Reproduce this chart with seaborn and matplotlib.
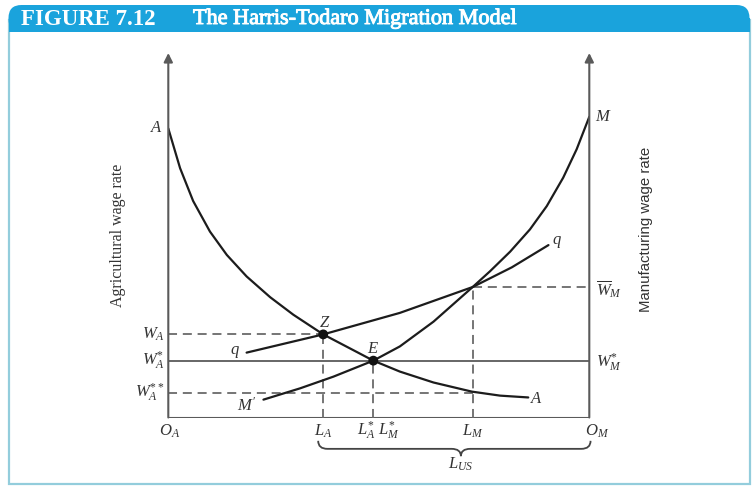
import matplotlib
matplotlib.use("Agg")
import matplotlib.pyplot as plt
import matplotlib.patheffects as pe
import seaborn as sns
from matplotlib.patches import FancyBboxPatch, Rectangle, PathPatch
from matplotlib.path import Path

# labour axis: O_A = 0 ... O_M = 100, wage axis: 0 ... 100 (arrow tips)
# agricultural marginal product curve AA
a_x = [0, 2.8, 5.9, 9.9, 13.9, 18.6, 24.2, 29.7, 36.8, 48.7, 55.0, 63.0, 72.1, 78.8, 85.5]
a_y = [79.3, 68.4, 59.4, 51.0, 44.6, 38.7, 33.0, 28.2, 22.8, 15.6, 12.6, 9.6, 7.1, 6.0, 5.5]
# manufacturing marginal product curve M'M
m_x = [22.6, 31.3, 39.2, 48.7, 55.0, 63.0, 72.3, 76.4, 81.2, 85.9, 89.9, 93.8, 97.0, 100]
m_y = [4.9, 8.0, 11.2, 15.6, 19.5, 26.3, 35.8, 40.1, 45.5, 51.6, 58.0, 65.8, 73.6, 82.5]
# Harris-Todaro iso-expected wage curve qq
q_x = [18.6, 36.8, 55.0, 72.3, 81.6, 90.3]
q_y = [17.8, 22.8, 28.7, 35.8, 41.2, 47.3]

# wage levels and labour allocations
w_a, w_a_star, w_a_2star, w_m_bar = 22.8, 15.6, 6.7, 35.8
l_a, l_a_star, l_m = 36.8, 48.7, 72.3

sns.set_style("white")
plt.rcParams["font.family"] = ["Liberation Serif", "DejaVu Serif"]
plt.rcParams["mathtext.fontset"] = "custom"
plt.rcParams["mathtext.rm"] = "Liberation Serif"
plt.rcParams["mathtext.it"] = "Liberation Serif:italic"
plt.rcParams["mathtext.bf"] = "Liberation Serif:bold"

fig = plt.figure(figsize=(7.54, 4.91), dpi=100)

# frame and title bar (pixel coordinates)
bg = fig.add_axes([0, 0, 1, 1])
bg.set_xlim(0, 754)
bg.set_ylim(491, 0)
bg.axis("off")
bg.add_patch(Rectangle((8.5, 20), 741, 464, fill=False, ec="#93cddc", lw=1.6))
bg.add_patch(FancyBboxPatch((8.5, 5), 741, 27, boxstyle="round,pad=0,rounding_size=13",
                            fc="#1aa3dc", ec="none"))
bg.add_patch(Rectangle((8.5, 18), 741, 14, fc="#1aa3dc", ec="none"))
bg.text(21, 19.5, "FIGURE 7.12", color="white", fontsize=16.5, fontweight="bold", va="center")
bg.text(193, 19.5, "The Harris-Todaro Migration Model", color="white", fontsize=16, va="center",
        path_effects=[pe.Stroke(linewidth=0.7, foreground="white"), pe.Normal()])

ax = fig.add_axes([168.3 / 754, 73.5 / 491, 421 / 754, 364.5 / 491])
ax.set_xlim(0, 100)
ax.set_ylim(0, 100)
ax.axis("off")

axis_col = "#5a5a5a"
dash_col = "#6a6a6a"
dash = (0, (5, 3.2))

# axes with arrows
for xv in (0, 100):
    ax.annotate("", xy=(xv, 100), xytext=(xv, 0),
                arrowprops=dict(arrowstyle="-|>", color=axis_col, lw=1.5, mutation_scale=13,
                                shrinkA=0, shrinkB=0))
ax.plot([0, 100], [0, 0], color=axis_col, lw=1.5, solid_capstyle="butt")

# reference lines
ax.plot([0, 100], [w_a_star, w_a_star], color=axis_col, lw=1.3)
ax.plot([0, l_a], [w_a, w_a], color=dash_col, lw=1.3, ls=dash)
ax.plot([0, l_m], [w_a_2star, w_a_2star], color=dash_col, lw=1.3, ls=dash)
ax.plot([l_m, 100], [w_m_bar, w_m_bar], color=dash_col, lw=1.3, ls=dash)
ax.plot([l_a, l_a], [0, w_a], color=dash_col, lw=1.3, ls=dash)
ax.plot([l_a_star, l_a_star], [0, w_a_star], color=dash_col, lw=1.3, ls=dash)
ax.plot([l_m, l_m], [0, w_m_bar], color=dash_col, lw=1.3, ls=dash)

# curves
for xs, ys in ((a_x, a_y), (m_x, m_y), (q_x, q_y)):
    sns.lineplot(x=xs, y=ys, ax=ax, sort=False, estimator=None, color="#1c1c1c", lw=1.6,
                 solid_joinstyle="round")

sns.scatterplot(x=[l_a, l_a_star], y=[w_a, w_a_star], ax=ax, color="#111111", s=50,
                edgecolor="none", zorder=5)

lab = dict(fontsize=12, color="#333333", va="center")
ax.text(-2.8, a_y[0], "$A$", ha="center", **lab)
ax.text(a_x[-1] + 2.0, a_y[-1] - 0.3, "$A$", ha="center", **lab)
ax.text(103.3, m_y[-1], "$M$", ha="center", **lab)
ax.text(m_x[0] - 3.9, m_y[0] - 1.6, "$M'$", ha="center", **lab)
ax.text(q_x[-1] + 2.0, q_y[-1] + 0.8, "$q$", ha="center", **lab)
ax.text(q_x[0] - 2.8, q_y[0] + 0.3, "$q$", ha="center", **lab)
ax.text(l_a + 0.4, w_a + 3.1, "$Z$", ha="center", **lab)
ax.text(l_a_star, w_a_star + 3.1, "$E$", ha="center", **lab)

ax.text(-0.9, w_a, "$W_A$", ha="right", **lab)
ax.text(-0.9, w_a_star, "$W_A^{*}$", ha="right", **lab)
ax.text(-0.9, w_a_2star, "$W_A^{**}$", ha="right", **lab)
ax.text(101.6, w_m_bar - 0.6, r"$\overline{W}_M$", ha="left", **lab)
ax.text(101.6, w_a_star - 0.6, "$W_M^{*}$", ha="left", **lab)

yb = -3.7
ax.text(0.4, yb, "$O_A$", ha="center", **lab)
ax.text(l_a, yb, "$L_A$", ha="center", **lab)
ax.text(l_a_star - 1.7, yb, "$L_A^{*}$", ha="center", **lab)
ax.text(l_a_star + 3.7, yb, "$L_M^{*}$", ha="center", **lab)
ax.text(l_m, yb, "$L_M$", ha="center", **lab)
ax.text(101.8, yb, "$O_M$", ha="center", **lab)

# brace under L_A ... O_M
x0, x1, xc = l_a - 1.2, 100.3, 69.5
yt, ym, yp = -6.4, -8.6, -10.6
verts = [(x0, yt), (x0, ym), (x0 + 2.2, ym), (xc - 2.2, ym), (xc, ym), (xc, yp),
         (xc, ym), (xc + 2.2, ym), (x1 - 2.2, ym), (x1, ym), (x1, yt)]
codes = [Path.MOVETO, Path.CURVE3, Path.CURVE3, Path.LINETO, Path.CURVE3, Path.CURVE3,
         Path.CURVE3, Path.CURVE3, Path.LINETO, Path.CURVE3, Path.CURVE3]
ax.add_patch(PathPatch(Path(verts, codes), fill=False, ec="#444444", lw=1.3, clip_on=False))
ax.text(xc, -12.8, "$L_{US}$", ha="center", **lab)

ax.text(-12.0, 50, "Agricultural wage rate", rotation=90, ha="center", va="center",
        fontsize=11.5, color="#333333")
ax.text(113.5, 51.5, "Manufacturing wage rate", rotation=90, ha="center", va="center",
        fontsize=10.8, color="#333333", family=["Liberation Sans", "DejaVu Sans"])

for t in ax.texts:
    t.set_clip_on(False)

fig.savefig("out.png", dpi=100, facecolor="white")
